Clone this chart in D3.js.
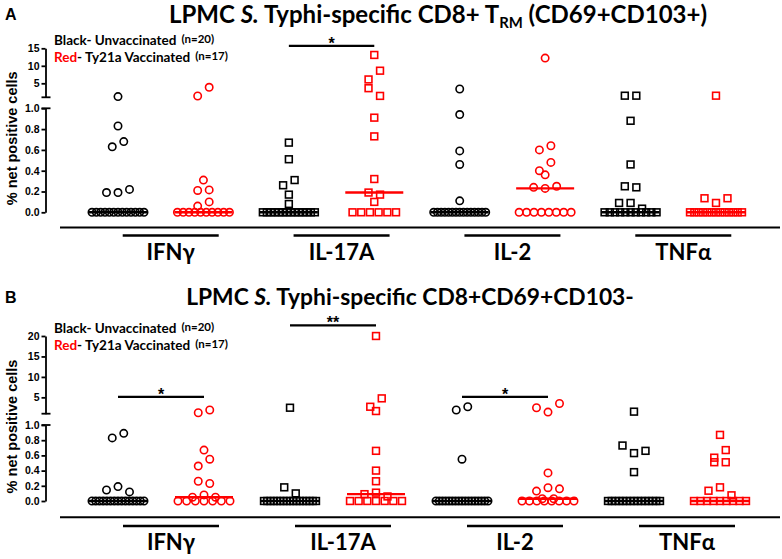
<!DOCTYPE html>
<html>
<head>
<meta charset="utf-8">
<script src="https://cdn.jsdelivr.net/npm/d3@7"></script>
<style>
  body { margin: 0; background: #fff; }
  svg { display: block; }
</style>
</head>
<body>
<svg id="chart" width="782" height="559"></svg>
<script>
// cytokines and marker shape per cytokine
const cytokines = ["IFNγ", "IL-17A", "IL-2", "TNFα"];
const shapes = ["circle", "square", "circle", "square"];

// panel A: CD8+ TRM (CD69+CD103+), % net positive cells
const trmUnvacc = [
  [0,0,0,0,0,0,0,0,0,0,0,0,0, 0.19,0.19,0.22,0.63,0.68,0.83,1.2],
  [0,0,0,0,0,0,0,0,0,0,0,0,0,0, 0.08,0.26,0.31,0.17,0.51,0.67],
  [0,0,0,0,0,0,0,0,0,0,0,0,0,0,0, 0.11,0.46,0.59,0.94,3.37],
  [0,0,0,0,0,0,0,0,0,0,0, 0.09,0.09,0.035,0.25,0.24,0.46,0.88,1.46,1.46]
];
const trmVacc = [
  [0,0,0,0,0,0,0,0,0,0, 0.06,0.10,0.21,0.215,0.31,1.37,3.86],
  [0,0,0,0,0,0, 0.10,0.19,0.17,0.32,0.73,0.91,3.6,1.4,6.1,8.6,13.1],
  [0,0,0,0,0,0,0,0, 0.24,0.23,0.25,0.36,0.40,0.48,0.60,0.64,12.2],
  [0,0,0,0,0,0,0,0,0,0,0,0,0, 0.135,0.09,0.135,1.46]
];

// panel B: CD8+CD69+CD103-
const nonTrmUnvacc = [
  [0,0,0,0,0,0,0,0,0,0,0,0,0,0,0, 0.145,0.19,0.12,0.83,0.89],
  [0,0,0,0,0,0,0,0,0,0,0,0,0,0,0,0,0, 0.18,0.10,2.46],
  [0,0,0,0,0,0,0,0,0,0,0,0,0,0,0,0,0, 0.55,1.9,2.7],
  [0,0,0,0,0,0,0,0,0,0,0,0,0,0,0, 0.38,0.73,0.63,0.66,1.5]
];
const nonTrmVacc = [
  [0,0,0,0,0,0,0, 0.05,0.08,0.05,0.26,0.23,0.46,0.55,0.67,1.23,1.9],
  [0,0,0,0,0,0,0, 0.09,0.11,0.06,0.26,0.40,0.66,1.65,2.7,4.75,20],
  [0,0,0,0,0,0,0,0, 0.13,0.03,0.03,0.175,0.16,0.37,2.46,1.4,3.5],
  [0,0,0,0,0,0,0,0,0, 0.135,0.18,0.075,0.57,0.51,0.51,0.67,0.87]
];

const lowerTicks = [0, 0.2, 0.4, 0.6, 0.8, 1.0];
const upperTicksA = [5, 10, 15];
const upperTicksB = [5, 10, 15, 20];

// significance: cytokine index, stars, level (upper axis units)
const sigA = [{c: 1, text: "*", v: 15.7}];
const sigB = [{c: 0, text: "*", v: 5.1}, {c: 1, text: "**", v: 22.6}, {c: 2, text: "*", v: 5.1}];

const RED = "#ff0000";
const svg = d3.select("#chart");
const axisX = 45.5;

const panels = [
  {letter: "A", unvacc: trmUnvacc, vacc: trmVacc, upperMax: 15, upperTicks: upperTicksA, sig: sigA,
   lower: [212.3, 108.3], upper: [97.3, 48.3], xr: [118, 716],
   titleX: 438, titleSize: 24, titleY: 23, letterY: 20, legY: [45, 62], baseY: 227.5, grpY: 235.5, labY: 260,
   title: [["LPMC ", "normal"], ["S.", "italic"], [" Typhi-specific CD8+ T", "normal"], ["RM", "sub"], [" (CD69+CD103+)", "normal"]]},
  {letter: "B", unvacc: nonTrmUnvacc, vacc: nonTrmVacc, upperMax: 20, upperTicks: upperTicksB, sig: sigB,
   lower: [501, 425], upper: [413.7, 336], xr: [118, 720],
   titleX: 410, titleSize: 22.8, titleY: 305, letterY: 303, legY: [333, 350], baseY: 517.3, grpY: 526, labY: 550,
   title: [["LPMC ", "normal"], ["S.", "italic"], [" Typhi-specific CD8+CD69+CD103-", "normal"]]}
];

function swarm(vals, yf) {
  const pts = vals.map((v, i) => ({v, i, y: yf(v), dx: 0}));
  const zeros = pts.filter(p => p.v === 0);
  const s0 = zeros.length > 1 ? Math.min(8.7, 52 / (zeros.length - 1)) : 0;
  zeros.forEach((p, k) => p.dx = (k - (zeros.length - 1) / 2) * s0);
  const rest = pts.filter(p => p.v !== 0).sort((a, b) => a.y - b.y);
  let row = [];
  const flush = () => {
    row.sort((a, b) => a.i - b.i).forEach((p, k) => p.dx = (k - (row.length - 1) / 2) * 11.5);
    row = [];
  };
  rest.forEach(p => {
    if (row.length && Math.abs(p.y - row[0].y) > 9) flush();
    row.push(p);
  });
  flush();
  return pts;
}

panels.forEach(P => {
  const g = svg.append("g");
  const yLow = d3.scaleLinear().domain([0, 1]).range(P.lower);
  const yUp = d3.scaleLinear().domain([1, P.upperMax]).range(P.upper);
  const y = v => v > 1 ? yUp(v) : yLow(v);
  const x = d3.scaleLinear().domain([0, 7]).range(P.xr);

  // panel letter
  g.append("text").attr("x", 5).attr("y", P.letterY)
    .attr("font-family", "Liberation Sans, Arial, sans-serif").attr("font-weight", "bold")
    .attr("font-size", 16).text(P.letter);

  // title
  const t = g.append("text").attr("x", P.titleX).attr("y", P.titleY).attr("text-anchor", "middle")
    .attr("font-family", "Lato, sans-serif").attr("font-weight", "bold").attr("font-size", P.titleSize);
  P.title.forEach(([s, st]) => {
    const ts = t.append("tspan").text(s);
    if (st === "italic") ts.attr("font-style", "italic");
    if (st === "sub") ts.attr("font-size", P.titleSize * 0.62).attr("dy", 5);
    if (st === "normal" && s.startsWith(" (")) ts.attr("dy", -5);
  });

  // legend
  const leg = [["Black", "#000", "- Unvaccinated", "(n=20)"], ["Red", RED, "- Ty21a Vaccinated", "(n=17)"]];
  leg.forEach((d, k) => {
    const lt = g.append("text").attr("x", 54).attr("y", P.legY[k])
      .attr("font-family", "Lato, sans-serif").attr("font-weight", "bold").attr("font-size", 13.5);
    lt.append("tspan").attr("fill", d[1]).text(d[0]);
    lt.append("tspan").attr("fill", "#000").text(d[2]);
    lt.append("tspan").attr("font-size", 11.5).attr("dx", 5).attr("dy", -2).text(d[3]);
  });

  // y axis label
  const yMid = (P.upper[1] + P.lower[0]) / 2 + 8;
  g.append("text").attr("transform", `translate(17,${yMid}) rotate(-90)`)
    .attr("text-anchor", "middle").attr("font-family", "Liberation Sans, Arial, sans-serif")
    .attr("font-weight", "bold").attr("font-size", 14.5).text("% net positive cells");

  // split y axis
  const axLow = d3.axisLeft(yLow).tickValues(lowerTicks).tickFormat(d3.format(".1f"))
    .tickSize(4).tickSizeOuter(0).tickPadding(2);
  const axUp = d3.axisLeft(yUp).tickValues(P.upperTicks).tickFormat(d3.format("d"))
    .tickSize(4).tickSizeOuter(0).tickPadding(2);
  [axLow, axUp].forEach(ax => {
    const a = g.append("g").attr("transform", `translate(${axisX},0)`).call(ax);
    a.selectAll("path, line").attr("stroke", "#000").attr("stroke-width", 1.8);
    a.selectAll("text").attr("font-family", "Liberation Sans, Arial, sans-serif")
      .attr("font-weight", "bold").attr("font-size", 10.5).attr("fill", "#000");
  });
  // break caps
  [yUp(1), yLow(1)].forEach(yy => {
    g.append("line").attr("x1", axisX - 4).attr("x2", axisX + 5).attr("y1", yy).attr("y2", yy)
      .attr("stroke", "#000").attr("stroke-width", 1.8);
  });

  // baseline
  g.append("line").attr("x1", 60).attr("x2", 780).attr("y1", P.baseY).attr("y2", P.baseY)
    .attr("stroke", "#000").attr("stroke-width", 2);

  // points and medians
  cytokines.forEach((c, ci) => {
    [P.unvacc[ci], P.vacc[ci]].forEach((vals, vi) => {
      const col = ci * 2 + vi;
      const cx = x(col);
      const color = vi ? RED : "#000";
      const pts = swarm(vals, y);
      const mg = g.append("g");
      if (shapes[ci] === "circle") {
        mg.selectAll("circle").data(pts).join("circle")
          .attr("cx", d => cx + d.dx).attr("cy", d => d.y).attr("r", 3.7)
          .attr("fill", "none").attr("stroke", color).attr("stroke-width", 1.6);
      } else {
        mg.selectAll("rect").data(pts).join("rect")
          .attr("x", d => cx + d.dx - 3.4).attr("y", d => d.y - 3.4)
          .attr("width", 6.8).attr("height", 6.8)
          .attr("fill", "none").attr("stroke", color).attr("stroke-width", 1.6);
      }
      const med = d3.median(vals);
      g.append("line").attr("x1", cx - 29).attr("x2", cx + 29).attr("y1", y(med)).attr("y2", y(med))
        .attr("stroke", color).attr("stroke-width", 2.4);
    });

    // group label and line
    const gc = (x(ci * 2) + x(ci * 2 + 1)) / 2 + 10;
    g.append("line").attr("x1", gc - 48).attr("x2", gc + 48).attr("y1", P.grpY).attr("y2", P.grpY)
      .attr("stroke", "#000").attr("stroke-width", 2.5);
    g.append("text").attr("x", gc).attr("y", P.labY).attr("text-anchor", "middle")
      .attr("font-family", "Lato, sans-serif").attr("font-weight", "bold").attr("font-size", 22)
      .text(c);
  });

  // significance bars
  P.sig.forEach(s => {
    const x1 = x(s.c * 2), x2 = x(s.c * 2 + 1), yy = yUp(s.v);
    g.append("line").attr("x1", x1).attr("x2", x2).attr("y1", yy).attr("y2", yy)
      .attr("stroke", "#000").attr("stroke-width", 2.2);
    g.append("text").attr("x", (x1 + x2) / 2).attr("y", yy + 3).attr("text-anchor", "middle")
      .attr("font-family", "Liberation Sans, Arial, sans-serif").attr("font-weight", "bold")
      .attr("font-size", 16).text(s.text);
  });
});
</script>
</body>
</html>
